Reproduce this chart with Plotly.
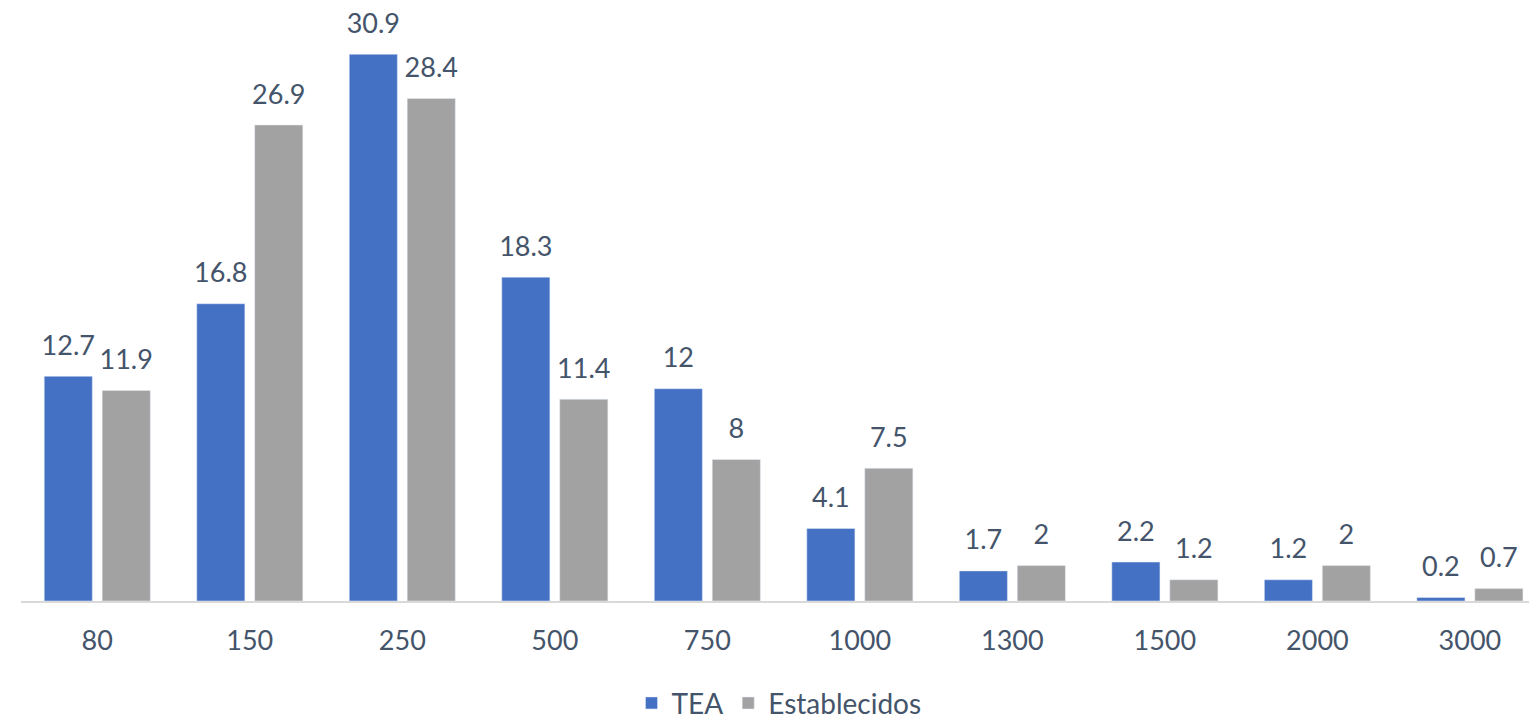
import plotly.graph_objects as go

categories = ['80', '150', '250', '500', '750', '1000', '1300', '1500', '2000', '3000']
tea = [12.7, 16.8, 30.9, 18.3, 12, 4.1, 1.7, 2.2, 1.2, 0.2]
establecidos = [11.9, 26.9, 28.4, 11.4, 8, 7.5, 2, 1.2, 2, 0.7]

font_color = '#44546A'
font_family = 'Lato, Open Sans, sans-serif'
fsize = 27

series = [
    ('TEA', tea, '#4571C5', 'a'),
    ('Establecidos', establecidos, '#A2A2A2', 'b'),
]

fig = go.Figure()
for name, vals, color, grp in series:
    fig.add_trace(go.Bar(
        x=categories, y=vals, name=name, offsetgroup=grp,
        marker=dict(color=color),
    ))
# value labels as grouped text points so they sit a little above each bar
for name, vals, color, grp in series:
    fig.add_trace(go.Scatter(
        x=categories, y=vals, mode='markers+text', offsetgroup=grp,
        text=[str(v) for v in vals], textposition='top center',
        marker=dict(size=22, color='rgba(0,0,0,0)'),
        textfont=dict(size=fsize, color=font_color),
        cliponaxis=False, showlegend=False, hoverinfo='skip',
    ))

fig.update_layout(
    width=1529, height=708,
    barmode='group', bargap=0.24, bargroupgap=0.17,
    scattermode='group', scattergap=0.24,
    plot_bgcolor='white', paper_bgcolor='white',
    font=dict(family=font_family, size=fsize, color=font_color),
    margin=dict(l=13, r=0, t=2, b=115, autoexpand=False),
    legend=dict(orientation='h', x=0.5, xanchor='center',
                yref='container', y=0.018, yanchor='middle',
                font=dict(size=28, color=font_color),
                itemwidth=30, traceorder='normal'),
)
fig.update_xaxes(
    type='category', range=[-0.5, 9.44], automargin=False,
    showline=True, linecolor='#D9D9D9', linewidth=2,
    showgrid=False, ticks='', ticklabelstandoff=15,
    tickfont=dict(size=fsize, color=font_color),
)
fig.update_yaxes(
    range=[0, 33.4], automargin=False, showgrid=False, showticklabels=False,
    zeroline=False, showline=False,
)

fig.write_html('out.html')
